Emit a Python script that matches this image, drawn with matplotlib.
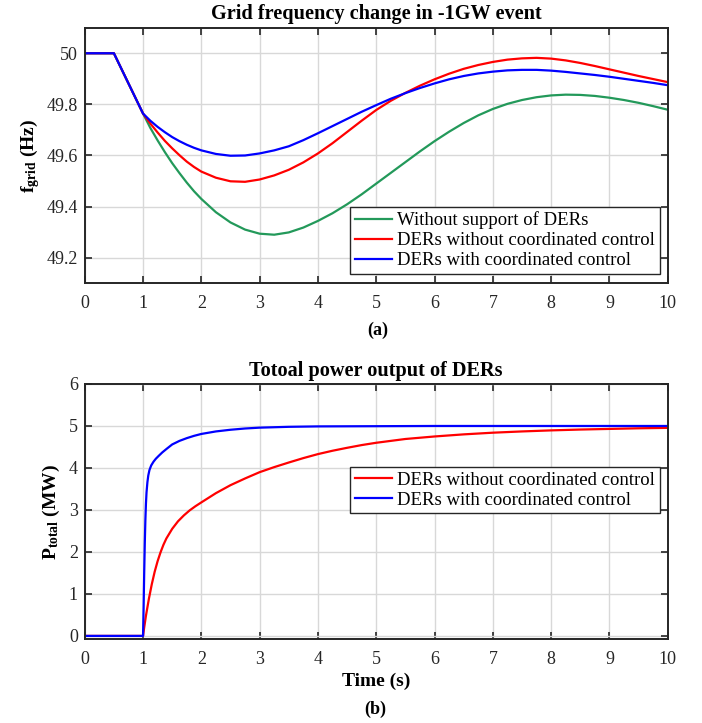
import matplotlib
matplotlib.use("Agg")
import matplotlib.pyplot as plt

plt.rcParams['font.family'] = ['Liberation Serif', 'DejaVu Serif']
plt.rcParams['mathtext.fontset'] = 'custom'
plt.rcParams['mathtext.rm'] = 'Liberation Serif'
plt.rcParams['mathtext.bf'] = 'Liberation Serif:bold'

# --- (a) grid frequency (Hz) ---
t_freq = [0, 0.5, 1.0, 1.125, 1.25, 1.375, 1.5, 1.625, 1.75, 1.875, 2.0, 2.25, 2.5,
          2.75, 3.0, 3.25, 3.5, 3.75, 4.0, 4.25, 4.5, 4.75, 5.0, 5.25, 5.5, 5.75,
          6.0, 6.25, 6.5, 6.75, 7.0, 7.25, 7.5, 7.75, 8.0, 8.25, 8.5, 8.75, 9.0,
          9.25, 9.5, 9.75, 10.0]
f_no_der = [50, 50, 49.764, 49.708, 49.659, 49.613, 49.570, 49.531, 49.494, 49.460,
            49.430, 49.378, 49.338, 49.310, 49.294, 49.290, 49.299, 49.318, 49.344,
            49.374, 49.409, 49.448, 49.490, 49.532, 49.574, 49.616, 49.656, 49.693,
            49.727, 49.757, 49.782, 49.802, 49.817, 49.828, 49.835, 49.838, 49.837,
            49.833, 49.826, 49.817, 49.806, 49.793, 49.779]
f_uncoord = [50, 50, 49.764, 49.725, 49.690, 49.657, 49.628, 49.601, 49.576, 49.555,
             49.537, 49.513, 49.499, 49.497, 49.506, 49.522, 49.544, 49.573, 49.608,
             49.648, 49.692, 49.736, 49.778, 49.814, 49.845, 49.873, 49.898, 49.920,
             49.939, 49.954, 49.966, 49.975, 49.980, 49.982, 49.979, 49.972, 49.962,
             49.950, 49.937, 49.924, 49.911, 49.899, 49.887]
f_coord = [50, 50, 49.764, 49.736, 49.712, 49.691, 49.672, 49.656, 49.642, 49.630,
           49.620, 49.606, 49.599, 49.600, 49.608, 49.620, 49.636, 49.660, 49.687,
           49.715, 49.743, 49.771, 49.797, 49.822, 49.844, 49.864, 49.882, 49.898,
           49.911, 49.921, 49.928, 49.933, 49.935, 49.935, 49.932, 49.927, 49.921,
           49.915, 49.908, 49.900, 49.892, 49.884, 49.875]

# --- (b) total DER power (MW) ---
t_p_uncoord = [0, 1.0, 1.02, 1.05, 1.1, 1.15, 1.2, 1.25, 1.3, 1.35, 1.4, 1.5, 1.6,
               1.7, 1.8, 1.9, 2.0, 2.25, 2.5, 2.75, 3.0, 3.25, 3.5, 3.75, 4.0, 4.25,
               4.5, 4.75, 5.0, 5.5, 6.0, 6.5, 7.0, 7.5, 8.0, 8.5, 9.0, 9.5, 10.0]
p_uncoord = [0, 0, 0.2, 0.48, 0.88, 1.23, 1.53, 1.78, 1.99, 2.17, 2.32, 2.55, 2.73,
             2.87, 2.99, 3.09, 3.18, 3.40, 3.59, 3.75, 3.90, 4.02, 4.13, 4.235, 4.33,
             4.41, 4.48, 4.545, 4.60, 4.69, 4.75, 4.80, 4.84, 4.87, 4.895, 4.915,
             4.93, 4.945, 4.955]
t_p_coord = [0, 1.0, 1.01, 1.02, 1.03, 1.04, 1.05, 1.06, 1.075, 1.09, 1.11, 1.14,
             1.18, 1.22, 1.27, 1.33, 1.4, 1.5, 1.625, 1.75, 1.875, 2.0, 2.25, 2.5,
             2.75, 3.0, 3.5, 4.0, 5.0, 6.0, 10.0]
p_coord = [0, 0, 0.7, 1.5, 2.2, 2.75, 3.15, 3.42, 3.66, 3.82, 3.95, 4.06, 4.15, 4.22,
           4.29, 4.37, 4.45, 4.56, 4.645, 4.71, 4.765, 4.81, 4.87, 4.91, 4.94, 4.96,
           4.98, 4.99, 4.995, 5.0, 5.0]

labels = ['Without support of DERs', 'DERs without coordinated control',
          'DERs with coordinated control']
colors = ['#23995a', '#ff0000', '#0000ff']


def style_axes(ax):
    ax.set_xlim(0, 10)
    ax.set_xticks(range(0, 11))
    ax.grid(True, color='#d8d8d8', linewidth=1.0)
    ax.set_axisbelow(True)
    ax.tick_params(direction='in', length=5, width=1.2, top=True, right=True,
                   labelsize=13, colors='#262626', labelcolor='#262626')
    ax.tick_params(axis='x', pad=8.5)
    ax.tick_params(axis='y', pad=5)
    for s in ax.spines.values():
        s.set_linewidth(1.4)
        s.set_color('#262626')


def add_legend(ax, loc, anchor):
    leg = ax.legend(loc=loc, bbox_to_anchor=anchor, borderaxespad=0,
                    fontsize=13.5, fancybox=False, framealpha=1, edgecolor='#262626',
                    handlelength=2.0, handletextpad=0.25, borderpad=0.25,
                    labelspacing=0.15)
    leg.get_frame().set_linewidth(1.0)


fig = plt.figure(figsize=(7.02, 7.23), dpi=100)
ax1 = fig.add_axes([0.1207, 0.6082, 0.8305, 0.3535])
ax2 = fig.add_axes([0.1207, 0.1158, 0.8305, 0.3531])

for f, c, lab in zip([f_no_der, f_uncoord, f_coord], colors, labels):
    ax1.plot(t_freq, f, color=c, linewidth=1.6, label=lab)
style_axes(ax1)
ax1.set_ylim(49.1, 50.1)
ax1.set_yticks([49.2, 49.4, 49.6, 49.8, 50.0])
ax1.set_yticklabels(['49.2', '49.4', '49.6', '49.8', '50'])
ax1.set_title('Grid frequency change in -1GW event', fontsize=14.6, fontweight='bold', pad=6)
ax1.set_ylabel(r'$\mathbf{f_{grid}}$ (Hz)', fontsize=14, fontweight='bold', labelpad=3)
add_legend(ax1, 'lower right', (0.986, 0.037))

ax2.plot(t_p_uncoord, p_uncoord, color=colors[1], linewidth=1.6, label=labels[1])
ax2.plot(t_p_coord, p_coord, color=colors[2], linewidth=1.6, label=labels[2])
style_axes(ax2)
ax2.set_ylim(-0.08, 6)
ax2.set_yticks(range(0, 7))
ax2.set_title('Totoal power output of DERs', fontsize=14.6, fontweight='bold', pad=6)
ax2.set_ylabel(r'$\mathbf{P_{total}}$ (MW)', fontsize=14, fontweight='bold', labelpad=5)
ax2.set_xlabel('Time (s)', fontsize=14, fontweight='bold', labelpad=3)
add_legend(ax2, 'upper right', (0.986, 0.675))

fig.text(0.538, 0.5435, '(a)', ha='center', va='center', fontsize=13, fontweight='bold')
fig.text(0.535, 0.019, '(b)', ha='center', va='center', fontsize=13, fontweight='bold')

fig.savefig('out.png', dpi=100, facecolor='white')
